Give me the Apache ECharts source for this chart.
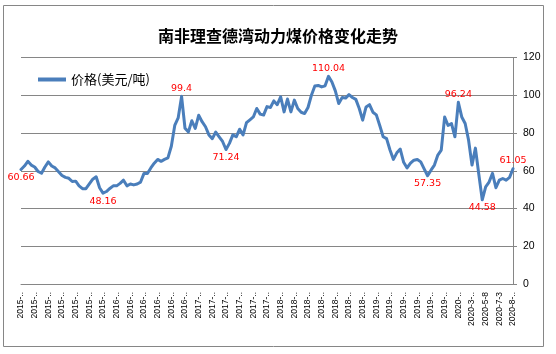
<!DOCTYPE html>
<html>
<head>
<meta charset="utf-8">
<script src="https://cdn.jsdelivr.net/npm/echarts@6/dist/echarts.min.js"></script>
<style>
  html, body { margin: 0; padding: 0; background: #fff; }
  #chart { width: 556px; height: 354px; }
</style>
</head>
<body>
<div id="chart"></div>
<script>
// 南非理查德湾动力煤价格，约每两周一个点
const prices = [
  60.66, 62.5, 65, 63, 62, 59.6, 58.7, 62, 64.7, 62.5,
  61.5, 59.5, 57.5, 56.5, 56, 54.3, 54.5, 52, 50.5, 50.5,
  53, 55.5, 56.8, 51, 48.16, 49, 50.6, 52, 52, 53.3,
  55, 52, 53, 52.5, 53, 54, 58.6, 58.5, 61.5, 64,
  66, 65, 66, 66.8, 73, 84, 88, 99.4, 82.5, 80.6,
  86.5, 82.4, 89.4, 86, 83.3, 79, 77, 80.5, 78, 75.5,
  71.24, 74.5, 79, 78, 82, 79, 85.5, 87, 88.5, 93,
  90, 89.5, 94, 93.5, 97, 95, 99.2, 91.2, 98, 91.2,
  97.4, 93, 91, 90.3, 93.5, 100, 104.9, 105.2, 104.4, 105,
  110.04, 107, 102.3, 95.6, 98.8, 98.5, 100.3, 98.8, 97.8, 93,
  86.8, 93.8, 95, 91, 89.6, 84, 78, 77, 71, 66,
  69.5, 71.5, 64.5, 61.5, 64, 65.6, 66, 64.7, 61, 57.35,
  60.3, 63, 68.3, 70.9, 88.5, 84, 85, 78, 96.24, 88.5,
  85, 76.2, 63, 72, 58, 44.58, 51.5, 54, 58.6, 51,
  55, 55.9, 55, 56.5, 61.05
];

// x轴上显示的日期（每4个点一个）
const tickLabels = [
  '2015-..', '2015-..', '2015-..', '2015-..', '2015-..', '2015-..', '2015-..',
  '2016-..', '2016-..', '2016-..', '2016-..', '2016-..', '2016-..',
  '2017-..', '2017-..', '2017-..', '2017-..', '2017-..', '2017-..',
  '2018-..', '2018-..', '2018-..', '2018-..', '2018-..', '2018-..', '2018-..',
  '2019-..', '2019-..', '2019-..', '2019-..', '2019-..', '2019-..',
  '2020-..', '2020-3-..', '2020-5-8', '2020-7-3', '2020-8-..'
];

// 标注数值的点
const labelIdx = [0, 24, 47, 60, 90, 119, 128, 135, 144];
const labelAbove = [47, 90, 128, 144];

const step = 4;
const categories = prices.map((v, i) => (i % step === 0 ? tickLabels[i / step] : ''));

const seriesData = prices.map((v, i) => {
  if (labelIdx.indexOf(i) < 0) return v;
  return {
    value: v,
    label: {
      show: true,
      position: labelAbove.indexOf(i) >= 0 ? 'top' : 'bottom'
    }
  };
});

const chart = echarts.init(document.getElementById('chart'));
chart.setOption({
  animation: false,
  title: {
    text: '南非理查德湾动力煤价格变化走势',
    left: 'center',
    top: 23,
    textStyle: {
      fontFamily: 'Noto Sans CJK SC',
      fontSize: 16,
      fontWeight: 'bold',
      color: '#000'
    }
  },
  legend: {
    left: 33,
    top: 68,
    icon: 'rect',
    itemWidth: 28,
    itemHeight: 4,
    textStyle: {
      fontFamily: 'Noto Sans CJK SC',
      fontSize: 13,
      color: '#000'
    },
    data: ['价格(美元/吨)']
  },
  graphic: [{
    type: 'rect',
    z: -1,
    shape: { x: 3.5, y: 5.5, width: 540, height: 341 },
    style: { fill: 'none', stroke: '#868686', lineWidth: 1 }
  }],
  grid: {
    left: 21,
    right: 43,
    top: 57.5,
    bottom: 70
  },
  xAxis: {
    type: 'category',
    data: categories,
    boundaryGap: false,
    axisLine: { lineStyle: { color: '#868686', width: 1 } },
    axisTick: { show: false },
    axisLabel: {
      interval: step - 1,
      rotate: 90,
      margin: 8,
      fontFamily: 'Liberation Sans',
      fontSize: 8.5,
      color: '#000'
    },
    splitLine: { show: false }
  },
  yAxis: {
    type: 'value',
    position: 'right',
    min: 0,
    max: 120,
    interval: 20,
    axisLine: { show: true, lineStyle: { color: '#868686', width: 1 } },
    axisTick: { show: true, length: 4, lineStyle: { color: '#868686' } },
    axisLabel: {
      margin: 10,
      fontFamily: 'Liberation Sans',
      fontSize: 10.5,
      color: '#000'
    },
    splitLine: { show: true, lineStyle: { color: '#868686', width: 1 } }
  },
  series: [{
    name: '价格(美元/吨)',
    type: 'line',
    data: seriesData,
    showSymbol: true,
    showAllSymbol: true,
    symbol: 'circle',
    symbolSize: 0,
    lineStyle: { color: '#4A7EBB', width: 3, join: 'round', cap: 'round' },
    itemStyle: { color: '#4A7EBB' },
    label: {
      distance: 3,
      color: '#FF0000',
      fontFamily: 'DejaVu Sans',
      fontSize: 9.5
    }
  }]
});
</script>
</body>
</html>
